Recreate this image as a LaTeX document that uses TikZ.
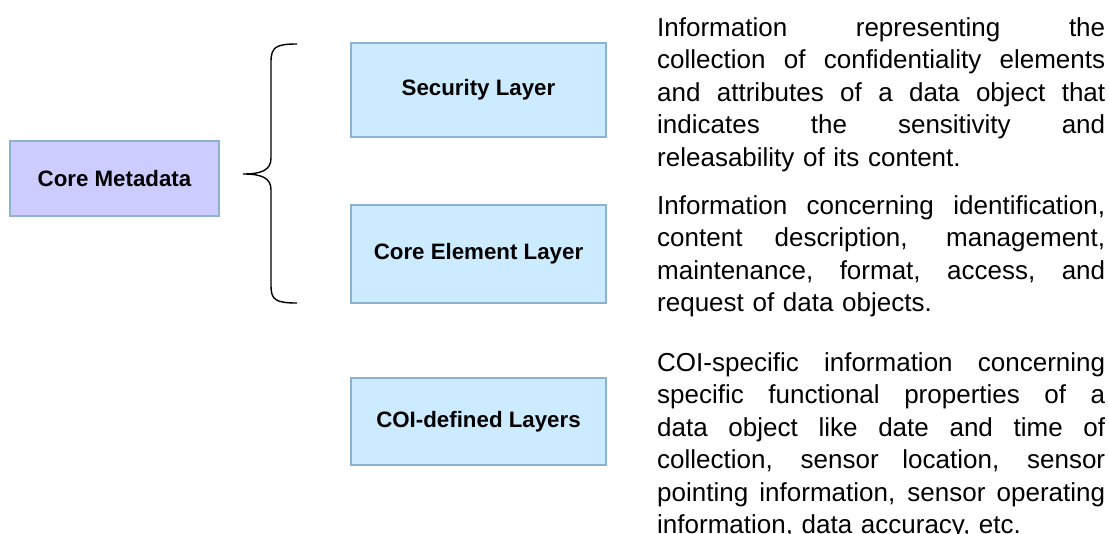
\documentclass[tikz,border=0pt]{standalone}
\usepackage{fontspec}
\setmainfont{Liberation Sans}
% one fully justified line of the description column (stretchable word spaces)
\newcommand\justline[1]{\makebox[448pt][s]{\spaceskip=0pt\xspaceskip=0pt #1}}
\begin{document}
\begin{tikzpicture}[x=1pt,y=-1pt,
  layerbox/.style={draw=boxedge, line width=1.3pt, fill=layerfill,
    minimum width=255pt, inner sep=0pt,
    font=\fontsize{22.3}{26}\selectfont\bfseries},
  corebox/.style={layerbox, fill=corefill, minimum width=209pt, minimum height=75pt},
  desc/.style={anchor=north west, inner sep=0pt, text width=448pt, align=left,
    font=\fontsize{26}{32.5}\selectfont},
  bracepath/.style={draw=black, line width=1.4pt}]
\definecolor{corefill}{RGB}{204,204,255}
\definecolor{layerfill}{RGB}{204,235,255}
\definecolor{boxedge}{RGB}{140,178,208}

\path[use as bounding box] (0,0) rectangle (1109,534);

% boxes
\node[corebox] (core) at (114.5,178.5) {Core Metadata};
\node[layerbox, minimum height=94pt] (sec) at (478.5,90) {Security Layer};
\node[layerbox, minimum height=98pt] (elem) at (478.5,254) {Core Element Layer};
\node[layerbox, minimum height=87pt] (coi) at (478.5,421.5) {COI-defined Layers};

% curly brace grouping the two upper layers
\coordinate (brTop) at (297,44);
\coordinate (brTip) at (243,174);
\coordinate (brBot) at (297,303);
\draw[bracepath] (brTop) .. controls (276,44) and (271,47) .. (271,62)
  -- (271,158) .. controls (271,170) and (262,174) .. (brTip)
  .. controls (262,174) and (271,178) .. (271,190)
  -- (271,286) .. controls (271,300) and (276,303) .. (brBot);

% descriptions
\node[desc] (dsec) at (657,17) {%
  \justline{Information representing the}\\
  \justline{collection of confidentiality elements}\\
  \justline{and attributes of a data object that}\\
  \justline{indicates the sensitivity and}\\
  releasability of its content.};
\node[desc] (delem) at (657,195) {%
  \justline{Information concerning identification,}\\
  \justline{content description, management,}\\
  \justline{maintenance, format, access, and}\\
  request of data objects.};
\node[desc] (dcoi) at (657,352) {%
  \justline{COI-specific information concerning}\\
  \justline{specific functional properties of a}\\
  \justline{data object like date and time of}\\
  \justline{collection, sensor location, sensor}\\
  \justline{pointing information, sensor operating}\\
  information, data accuracy, etc.};
\end{tikzpicture}
\end{document}
